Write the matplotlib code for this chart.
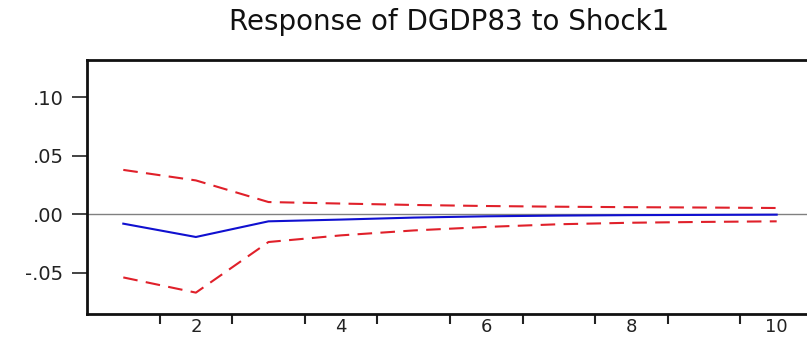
import matplotlib
matplotlib.use("Agg")
import matplotlib.pyplot as plt

periods = [1, 2, 3, 4, 5, 6, 7, 8, 9, 10]
response = [-0.008, -0.0194, -0.006, -0.0045, -0.0028, -0.0017, -0.0011, -0.0007, -0.0005, -0.0003]
upper = [0.038, 0.029, 0.0105, 0.0092, 0.008, 0.0071, 0.0065, 0.0061, 0.0058, 0.0054]
lower = [-0.054, -0.067, -0.0237, -0.018, -0.0138, -0.0108, -0.0085, -0.0072, -0.0065, -0.006]
xtick_labels = ["2", "4", "6", "8", "10"]
ytick_vals = [-0.05, 0.0, 0.05, 0.10]
ytick_labels = ["-.05", ".00", ".05", ".10"]
title = "Response of DGDP83 to Shock1"

plt.rcParams['font.family'] = ['DejaVu Sans']
fig = plt.figure(figsize=(8.07, 3.43), dpi=100)
ax = fig.add_axes([0.1078, 0.0845, 0.8996, 0.7405])

ax.axhline(0, color='#808080', lw=1.0, zorder=1)
ax.plot(periods, response, color='#1010d0', lw=1.5, zorder=3)
ax.plot(periods, upper, color='#e0202a', lw=1.5, dashes=(7, 4), zorder=2)
ax.plot(periods, lower, color='#e0202a', lw=1.5, dashes=(7, 4), zorder=2)

ax.set_xlim(0.5, 10.5)
ax.set_ylim(-0.0853, 0.132)

ax.set_xticks([i + 0.5 for i in range(1, 10)])
ax.set_xticklabels([])
ax.set_xticks([2, 4, 6, 8, 10], minor=True)
ax.set_xticklabels(xtick_labels, minor=True)
ax.tick_params(axis='x', which='major', direction='out', length=7, width=1.5, colors='#222222')
ax.tick_params(axis='x', which='minor', length=0, labelsize=13, pad=3, colors='#222222')
ax.set_yticks(ytick_vals)
ax.set_yticklabels(ytick_labels)
ax.tick_params(axis='y', direction='out', length=11, width=1.2, labelsize=14, pad=6, colors='#222222')

for s in ['left', 'bottom', 'top', 'right']:
    ax.spines[s].set_linewidth(2.0)
    ax.spines[s].set_color('#111111')

fig.text(0.5564, 0.936, title, ha='center', va='center', fontsize=20, color='#111111')

fig.savefig("out.png", dpi=100)
